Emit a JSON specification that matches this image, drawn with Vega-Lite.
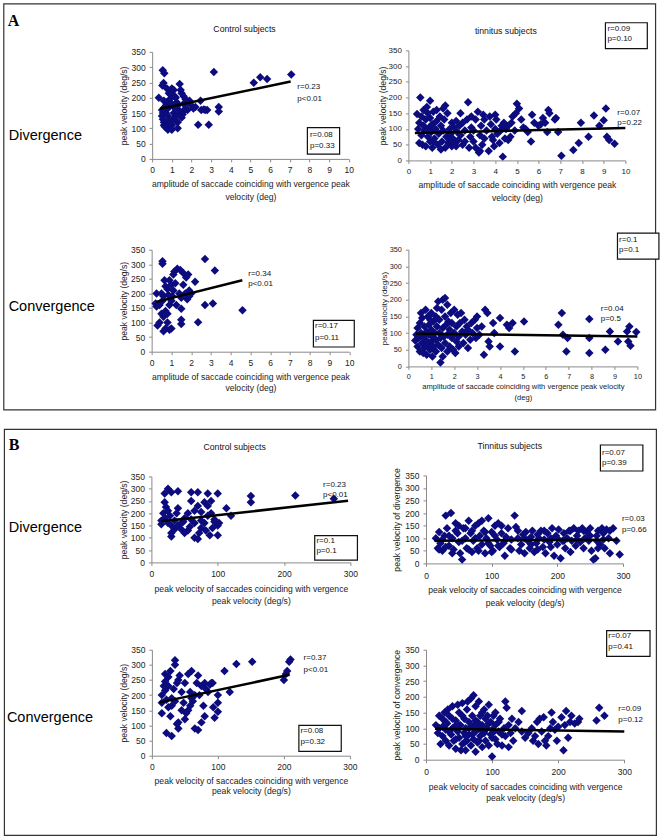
{
"$schema": "https://vega.github.io/schema/vega-lite/v6.json",
"padding": {"left": 2.4, "top": 2.4, "right": 4, "bottom": 4},
"background": "white",
"config": {
 "view": {"stroke": null},
 "font": "Liberation Sans",
 "axis": {"domainColor": "#8a8a8a", "tickColor": "#8a8a8a", "tickSize": 3, "tickCount": 30, "format": "d", "grid": false, "labelFont": "Liberation Sans", "labelFontSize": 8.5, "labelColor": "#222", "titleFont": "Liberation Sans", "titleFontSize": 8.6, "titleFontWeight": "normal", "titleColor": "#222", "labelPadding": 4, "labelFlush": false, "labelOverlap": false, "titlePadding": 3, "titleLineHeight": 12.5}
},
"datasets": {
 "a1": [{"x":0.34,"y":200},{"x":0.54,"y":290},{"x":0.62,"y":280},{"x":0.58,"y":248},{"x":0.52,"y":240},{"x":3.14,"y":284},{"x":5.17,"y":249},{"x":5.5,"y":267},{"x":5.85,"y":261},{"x":7.08,"y":276},{"x":2.46,"y":190},{"x":2.34,"y":112},{"x":2.88,"y":112},{"x":2.63,"y":162},{"x":2.8,"y":160},{"x":3.39,"y":170},{"x":3.39,"y":155},{"x":0.5,"y":160},{"x":0.5,"y":140},{"x":0.55,"y":130},{"x":0.6,"y":120},{"x":0.6,"y":110},{"x":0.65,"y":105},{"x":0.7,"y":150},{"x":0.7,"y":175},{"x":0.75,"y":185},{"x":0.8,"y":165},{"x":0.8,"y":140},{"x":0.85,"y":125},{"x":0.9,"y":115},{"x":0.95,"y":100},{"x":1.0,"y":95},{"x":1.0,"y":110},{"x":1.05,"y":130},{"x":1.1,"y":150},{"x":1.1,"y":170},{"x":0.9,"y":195},{"x":0.95,"y":210},{"x":1.0,"y":230},{"x":1.1,"y":225},{"x":1.2,"y":200},{"x":1.25,"y":185},{"x":1.3,"y":175},{"x":1.35,"y":160},{"x":1.4,"y":150},{"x":1.45,"y":140},{"x":1.5,"y":135},{"x":1.55,"y":145},{"x":1.6,"y":155},{"x":1.4,"y":245},{"x":1.45,"y":225},{"x":1.5,"y":215},{"x":1.6,"y":205},{"x":1.7,"y":195},{"x":1.8,"y":185},{"x":1.9,"y":190},{"x":2.0,"y":175},{"x":2.1,"y":165},{"x":2.2,"y":170},{"x":1.2,"y":125},{"x":1.3,"y":120},{"x":0.75,"y":230},{"x":0.85,"y":215},{"x":1.15,"y":205},{"x":1.6,"y":180},{"x":1.7,"y":165},{"x":1.8,"y":160},{"x":0.6,"y":190},{"x":0.65,"y":170},{"x":0.55,"y":150},{"x":1.0,"y":180},{"x":1.2,"y":140},{"x":1.3,"y":100},{"x":0.8,"y":95},{"x":2.5,"y":160},{"x":2.7,"y":160}],
 "a2": [{"x":0.4,"y":148},{"x":0.45,"y":100},{"x":0.5,"y":55},{"x":0.5,"y":120},{"x":0.55,"y":200},{"x":0.6,"y":140},{"x":0.6,"y":80},{"x":0.65,"y":50},{"x":0.7,"y":110},{"x":0.7,"y":160},{"x":0.75,"y":95},{"x":0.8,"y":45},{"x":0.8,"y":130},{"x":0.85,"y":170},{"x":0.9,"y":75},{"x":0.9,"y":150},{"x":0.95,"y":105},{"x":1.0,"y":190},{"x":1.0,"y":60},{"x":1.0,"y":135},{"x":1.05,"y":90},{"x":1.1,"y":40},{"x":1.1,"y":115},{"x":1.15,"y":155},{"x":1.2,"y":70},{"x":1.25,"y":100},{"x":1.3,"y":125},{"x":1.35,"y":50},{"x":1.4,"y":85},{"x":1.45,"y":140},{"x":1.5,"y":35},{"x":1.5,"y":110},{"x":1.55,"y":60},{"x":1.6,"y":95},{"x":1.65,"y":130},{"x":1.7,"y":175},{"x":1.7,"y":40},{"x":1.75,"y":75},{"x":1.8,"y":150},{"x":1.85,"y":55},{"x":1.9,"y":100},{"x":1.95,"y":85},{"x":2.0,"y":45},{"x":2.0,"y":120},{"x":1.3,"y":160},{"x":1.6,"y":165},{"x":1.15,"y":60},{"x":1.9,"y":65},{"x":2.05,"y":70},{"x":2.1,"y":105},{"x":2.15,"y":55},{"x":2.2,"y":125},{"x":2.25,"y":90},{"x":2.3,"y":65},{"x":2.35,"y":110},{"x":2.4,"y":80},{"x":2.5,"y":50},{"x":2.5,"y":120},{"x":2.6,"y":95},{"x":2.7,"y":130},{"x":2.75,"y":185},{"x":2.8,"y":40},{"x":2.85,"y":75},{"x":2.9,"y":105},{"x":3.0,"y":60},{"x":3.0,"y":95},{"x":3.1,"y":40},{"x":3.1,"y":130},{"x":3.2,"y":155},{"x":3.25,"y":25},{"x":3.3,"y":80},{"x":3.35,"y":110},{"x":3.4,"y":50},{"x":3.45,"y":145},{"x":3.5,"y":70},{"x":3.5,"y":130},{"x":2.2,"y":45},{"x":2.6,"y":60},{"x":2.9,"y":140},{"x":3.3,"y":30},{"x":2.4,"y":150},{"x":3.6,"y":95},{"x":3.7,"y":30},{"x":3.75,"y":140},{"x":3.8,"y":115},{"x":3.85,"y":75},{"x":3.9,"y":65},{"x":4.0,"y":145},{"x":4.0,"y":100},{"x":4.05,"y":130},{"x":4.1,"y":85},{"x":4.2,"y":55},{"x":4.3,"y":110},{"x":4.35,"y":12},{"x":4.4,"y":120},{"x":4.45,"y":70},{"x":4.5,"y":100},{"x":4.6,"y":65},{"x":4.7,"y":75},{"x":4.75,"y":120},{"x":4.8,"y":140},{"x":4.9,"y":95},{"x":4.95,"y":150},{"x":5.0,"y":180},{"x":5.1,"y":165},{"x":5.2,"y":130},{"x":5.3,"y":105},{"x":5.5,"y":90},{"x":5.65,"y":60},{"x":5.7,"y":145},{"x":5.8,"y":120},{"x":6.0,"y":110},{"x":6.1,"y":115},{"x":6.2,"y":135},{"x":6.3,"y":120},{"x":6.4,"y":90},{"x":6.45,"y":160},{"x":6.5,"y":150},{"x":6.75,"y":130},{"x":6.8,"y":135},{"x":6.9,"y":90},{"x":5.4,"y":100},{"x":4.25,"y":95},{"x":3.95,"y":45},{"x":4.6,"y":110},{"x":7.05,"y":15},{"x":7.6,"y":33},{"x":7.85,"y":55},{"x":7.95,"y":120},{"x":8.3,"y":75},{"x":8.55,"y":143},{"x":8.8,"y":110},{"x":9.0,"y":128},{"x":9.1,"y":165},{"x":9.15,"y":75},{"x":9.25,"y":65},{"x":9.5,"y":53}],
 "a3": [{"x":0.55,"y":302},{"x":0.55,"y":310},{"x":2.7,"y":318},{"x":3.2,"y":279},{"x":4.6,"y":142},{"x":2.35,"y":101},{"x":2.7,"y":160},{"x":3.1,"y":165},{"x":1.5,"y":147},{"x":1.5,"y":110},{"x":1.5,"y":95},{"x":0.25,"y":200},{"x":0.2,"y":165},{"x":0.25,"y":155},{"x":0.3,"y":90},{"x":0.4,"y":100},{"x":0.6,"y":70},{"x":0.7,"y":80},{"x":0.8,"y":100},{"x":0.9,"y":75},{"x":1.0,"y":80},{"x":0.7,"y":140},{"x":0.8,"y":130},{"x":0.9,"y":160},{"x":1.0,"y":175},{"x":1.1,"y":210},{"x":1.2,"y":235},{"x":1.1,"y":265},{"x":1.15,"y":275},{"x":1.3,"y":285},{"x":1.45,"y":280},{"x":1.6,"y":270},{"x":1.75,"y":255},{"x":1.85,"y":265},{"x":1.9,"y":210},{"x":2.0,"y":200},{"x":1.8,"y":180},{"x":2.2,"y":240},{"x":1.6,"y":230},{"x":1.7,"y":200},{"x":0.65,"y":245},{"x":0.7,"y":225},{"x":0.8,"y":215},{"x":0.5,"y":200},{"x":0.6,"y":190},{"x":0.55,"y":175},{"x":0.4,"y":160},{"x":0.5,"y":130},{"x":0.6,"y":120},{"x":1.0,"y":230},{"x":0.9,"y":245},{"x":1.05,"y":190},{"x":1.4,"y":200},{"x":1.5,"y":185},{"x":1.9,"y":190},{"x":0.85,"y":195},{"x":1.25,"y":160}],
 "a4": [{"x":0.3,"y":78},{"x":0.35,"y":95},{"x":0.4,"y":60},{"x":0.4,"y":115},{"x":0.45,"y":85},{"x":0.5,"y":130},{"x":0.5,"y":45},{"x":0.55,"y":100},{"x":0.6,"y":70},{"x":0.6,"y":145},{"x":0.65,"y":90},{"x":0.7,"y":55},{"x":0.7,"y":120},{"x":0.75,"y":170},{"x":0.75,"y":80},{"x":0.8,"y":105},{"x":0.8,"y":35},{"x":0.85,"y":150},{"x":0.85,"y":65},{"x":0.9,"y":95},{"x":0.9,"y":125},{"x":0.95,"y":50},{"x":1.0,"y":110},{"x":1.0,"y":75},{"x":1.0,"y":160},{"x":1.05,"y":30},{"x":1.05,"y":90},{"x":1.1,"y":135},{"x":1.1,"y":60},{"x":1.15,"y":100},{"x":1.2,"y":45},{"x":1.2,"y":150},{"x":1.2,"y":80},{"x":1.25,"y":120},{"x":1.3,"y":195},{"x":1.3,"y":65},{"x":1.35,"y":100},{"x":1.35,"y":140},{"x":1.4,"y":12},{"x":1.4,"y":85},{"x":1.45,"y":170},{"x":1.45,"y":55},{"x":1.5,"y":200},{"x":1.5,"y":115},{"x":1.5,"y":30},{"x":1.55,"y":90},{"x":1.6,"y":205},{"x":1.6,"y":150},{"x":1.6,"y":70},{"x":1.65,"y":125},{"x":1.7,"y":185},{"x":1.7,"y":95},{"x":1.7,"y":45},{"x":1.75,"y":135},{"x":1.8,"y":60},{"x":1.8,"y":110},{"x":1.85,"y":160},{"x":1.9,"y":85},{"x":1.9,"y":130},{"x":1.95,"y":50},{"x":2.0,"y":100},{"x":2.0,"y":170},{"x":2.05,"y":40},{"x":2.1,"y":120},{"x":2.1,"y":75},{"x":2.15,"y":155},{"x":2.2,"y":90},{"x":2.2,"y":60},{"x":2.25,"y":130},{"x":2.3,"y":160},{"x":2.35,"y":105},{"x":2.4,"y":70},{"x":2.45,"y":140},{"x":2.5,"y":95},{"x":2.55,"y":120},{"x":2.6,"y":110},{"x":2.6,"y":55},{"x":2.7,"y":80},{"x":2.75,"y":130},{"x":2.8,"y":100},{"x":2.9,"y":140},{"x":2.95,"y":85},{"x":3.0,"y":150},{"x":3.0,"y":115},{"x":3.1,"y":95},{"x":3.2,"y":120},{"x":3.3,"y":35},{"x":3.35,"y":170},{"x":3.45,"y":160},{"x":3.5,"y":75},{"x":3.55,"y":60},{"x":3.7,"y":130},{"x":3.75,"y":100},{"x":4.0,"y":145},{"x":4.0,"y":60},{"x":4.3,"y":125},{"x":4.4,"y":115},{"x":4.55,"y":130},{"x":4.65,"y":45},{"x":5.05,"y":135},{"x":6.55,"y":125},{"x":6.7,"y":160},{"x":6.75,"y":95},{"x":6.9,"y":45},{"x":6.95,"y":85},{"x":7.9,"y":40},{"x":7.9,"y":85},{"x":7.9,"y":142},{"x":8.6,"y":50},{"x":8.8,"y":105},{"x":9.15,"y":75},{"x":9.55,"y":105},{"x":9.65,"y":120},{"x":9.6,"y":75},{"x":9.7,"y":62},{"x":9.95,"y":103},{"x":0.55,"y":160},{"x":0.95,"y":140},{"x":1.25,"y":175},{"x":0.65,"y":40}],
 "b1": [{"x":150,"y":270},{"x":150,"y":245},{"x":217,"y":272},{"x":275,"y":259},{"x":113,"y":220},{"x":120,"y":190},{"x":20,"y":280},{"x":25,"y":300},{"x":30,"y":285},{"x":40,"y":290},{"x":60,"y":285},{"x":70,"y":285},{"x":85,"y":280},{"x":100,"y":280},{"x":20,"y":245},{"x":22,"y":225},{"x":25,"y":210},{"x":15,"y":170},{"x":15,"y":155},{"x":20,"y":180},{"x":18,"y":200},{"x":30,"y":105},{"x":30,"y":120},{"x":35,"y":135},{"x":40,"y":150},{"x":45,"y":160},{"x":40,"y":220},{"x":50,"y":180},{"x":55,"y":200},{"x":60,"y":175},{"x":65,"y":160},{"x":65,"y":100},{"x":70,"y":95},{"x":72,"y":120},{"x":75,"y":140},{"x":80,"y":160},{"x":85,"y":190},{"x":88,"y":110},{"x":90,"y":200},{"x":95,"y":175},{"x":100,"y":110},{"x":100,"y":150},{"x":60,"y":250},{"x":70,"y":230},{"x":80,"y":245},{"x":65,"y":210},{"x":75,"y":205},{"x":85,"y":230},{"x":90,"y":250},{"x":55,"y":130},{"x":50,"y":120},{"x":45,"y":135},{"x":35,"y":170},{"x":28,"y":190},{"x":38,"y":200},{"x":58,"y":145},{"x":48,"y":165},{"x":102,"y":160},{"x":95,"y":165},{"x":92,"y":140},{"x":25,"y":160},{"x":30,"y":150},{"x":75,"y":170},{"x":82,"y":130}],
 "b2": [{"x":15,"y":100},{"x":18,"y":60},{"x":20,"y":125},{"x":22,"y":80},{"x":25,"y":50},{"x":28,"y":110},{"x":30,"y":190},{"x":32,"y":140},{"x":35,"y":70},{"x":38,"y":200},{"x":40,"y":100},{"x":42,"y":55},{"x":45,"y":160},{"x":48,"y":120},{"x":50,"y":85},{"x":52,"y":40},{"x":55,"y":15},{"x":57,"y":140},{"x":60,"y":100},{"x":62,"y":60},{"x":65,"y":170},{"x":68,"y":120},{"x":70,"y":45},{"x":72,"y":90},{"x":75,"y":150},{"x":78,"y":60},{"x":80,"y":160},{"x":82,"y":110},{"x":85,"y":75},{"x":88,"y":130},{"x":90,"y":40},{"x":92,"y":100},{"x":95,"y":180},{"x":98,"y":70},{"x":100,"y":125},{"x":102,"y":50},{"x":105,"y":150},{"x":108,"y":95},{"x":110,"y":160},{"x":112,"y":65},{"x":115,"y":120},{"x":118,"y":80},{"x":120,"y":30},{"x":122,"y":105},{"x":125,"y":140},{"x":128,"y":60},{"x":130,"y":95},{"x":135,"y":190},{"x":137,"y":145},{"x":140,"y":100},{"x":142,"y":50},{"x":145,"y":75},{"x":148,"y":115},{"x":150,"y":40},{"x":152,"y":125},{"x":155,"y":90},{"x":158,"y":60},{"x":160,"y":105},{"x":162,"y":130},{"x":165,"y":45},{"x":168,"y":80},{"x":170,"y":115},{"x":172,"y":100},{"x":175,"y":130},{"x":178,"y":65},{"x":180,"y":95},{"x":182,"y":40},{"x":185,"y":120},{"x":188,"y":85},{"x":190,"y":100},{"x":192,"y":140},{"x":195,"y":30},{"x":198,"y":110},{"x":200,"y":75},{"x":202,"y":135},{"x":205,"y":20},{"x":208,"y":90},{"x":210,"y":120},{"x":212,"y":60},{"x":215,"y":100},{"x":218,"y":130},{"x":220,"y":45},{"x":222,"y":90},{"x":225,"y":140},{"x":228,"y":70},{"x":230,"y":110},{"x":232,"y":130},{"x":235,"y":85},{"x":238,"y":140},{"x":240,"y":60},{"x":242,"y":100},{"x":245,"y":125},{"x":248,"y":90},{"x":250,"y":140},{"x":252,"y":50},{"x":255,"y":15},{"x":258,"y":20},{"x":260,"y":110},{"x":262,"y":130},{"x":265,"y":75},{"x":268,"y":140},{"x":270,"y":95},{"x":272,"y":60},{"x":275,"y":135},{"x":278,"y":100},{"x":280,"y":40},{"x":285,"y":140},{"x":290,"y":90},{"x":295,"y":35},{"x":20,"y":55},{"x":25,"y":95},{"x":30,"y":65},{"x":35,"y":110},{"x":40,"y":40},{"x":45,"y":130},{"x":50,"y":150},{"x":55,"y":90},{"x":60,"y":140},{"x":65,"y":55},{"x":70,"y":130},{"x":75,"y":100},{"x":80,"y":50},{"x":85,"y":170},{"x":90,"y":125},{"x":95,"y":80},{"x":100,"y":45},{"x":105,"y":110},{"x":110,"y":70},{"x":115,"y":150},{"x":120,"y":90},{"x":130,"y":55},{"x":140,"y":130},{"x":150,"y":100},{"x":160,"y":75},{"x":170,"y":55},{"x":180,"y":130},{"x":190,"y":65},{"x":200,"y":100},{"x":210,"y":90},{"x":220,"y":130},{"x":230,"y":95},{"x":240,"y":130},{"x":250,"y":110},{"x":260,"y":90},{"x":270,"y":120},{"x":280,"y":130},{"x":262,"y":60}],
 "b3": [{"x":200,"y":250},{"x":203,"y":270},{"x":205,"y":280},{"x":208,"y":310},{"x":210,"y":318},{"x":152,"y":310},{"x":128,"y":303},{"x":110,"y":280},{"x":118,"y":210},{"x":100,"y":200},{"x":100,"y":175},{"x":100,"y":145},{"x":95,"y":125},{"x":93,"y":160},{"x":90,"y":240},{"x":85,"y":210},{"x":80,"y":130},{"x":78,"y":165},{"x":75,"y":110},{"x":70,"y":85},{"x":65,"y":90},{"x":60,"y":190},{"x":60,"y":280},{"x":55,"y":270},{"x":50,"y":240},{"x":45,"y":210},{"x":40,"y":90},{"x":40,"y":110},{"x":35,"y":315},{"x":35,"y":300},{"x":30,"y":65},{"x":22,"y":75},{"x":15,"y":140},{"x":15,"y":200},{"x":15,"y":175},{"x":20,"y":270},{"x":20,"y":215},{"x":25,"y":230},{"x":25,"y":260},{"x":28,"y":130},{"x":30,"y":165},{"x":35,"y":180},{"x":40,"y":250},{"x":45,"y":150},{"x":48,"y":175},{"x":50,"y":120},{"x":55,"y":150},{"x":58,"y":210},{"x":62,"y":180},{"x":65,"y":200},{"x":68,"y":240},{"x":70,"y":265},{"x":72,"y":200},{"x":75,"y":230},{"x":80,"y":240},{"x":82,"y":220},{"x":88,"y":235},{"x":92,"y":240},{"x":20,"y":245},{"x":18,"y":230},{"x":22,"y":185},{"x":28,"y":280},{"x":33,"y":220},{"x":38,"y":240},{"x":42,"y":265},{"x":25,"y":160},{"x":30,"y":190},{"x":52,"y":140},{"x":58,"y":165},{"x":38,"y":105}],
 "b4": [{"x":15,"y":110},{"x":18,"y":85},{"x":20,"y":100},{"x":22,"y":50},{"x":25,"y":130},{"x":25,"y":75},{"x":28,"y":150},{"x":30,"y":95},{"x":30,"y":60},{"x":32,"y":115},{"x":35,"y":45},{"x":35,"y":140},{"x":38,"y":80},{"x":40,"y":170},{"x":40,"y":100},{"x":42,"y":60},{"x":45,"y":125},{"x":45,"y":35},{"x":48,"y":90},{"x":50,"y":150},{"x":50,"y":70},{"x":52,"y":110},{"x":55,"y":50},{"x":55,"y":180},{"x":58,"y":130},{"x":58,"y":85},{"x":60,"y":30},{"x":60,"y":100},{"x":62,"y":160},{"x":62,"y":60},{"x":65,"y":120},{"x":65,"y":80},{"x":68,"y":195},{"x":68,"y":45},{"x":70,"y":105},{"x":70,"y":140},{"x":72,"y":205},{"x":72,"y":65},{"x":75,"y":25},{"x":75,"y":90},{"x":75,"y":170},{"x":78,"y":120},{"x":78,"y":55},{"x":80,"y":100},{"x":80,"y":185},{"x":82,"y":75},{"x":82,"y":140},{"x":85,"y":40},{"x":85,"y":110},{"x":88,"y":160},{"x":88,"y":85},{"x":90,"y":130},{"x":90,"y":60},{"x":92,"y":100},{"x":95,"y":175},{"x":95,"y":45},{"x":98,"y":120},{"x":98,"y":80},{"x":100,"y":10},{"x":100,"y":95},{"x":102,"y":140},{"x":105,"y":65},{"x":105,"y":110},{"x":108,"y":50},{"x":110,"y":90},{"x":112,"y":130},{"x":115,"y":45},{"x":118,"y":100},{"x":120,"y":75},{"x":120,"y":185},{"x":122,"y":165},{"x":125,"y":110},{"x":125,"y":40},{"x":128,"y":85},{"x":130,"y":130},{"x":132,"y":60},{"x":135,"y":100},{"x":140,"y":120},{"x":145,"y":155},{"x":145,"y":90},{"x":150,"y":70},{"x":155,"y":85},{"x":160,"y":100},{"x":162,"y":60},{"x":165,"y":75},{"x":168,"y":120},{"x":170,"y":50},{"x":172,"y":130},{"x":175,"y":90},{"x":178,"y":135},{"x":180,"y":60},{"x":182,"y":45},{"x":185,"y":75},{"x":188,"y":100},{"x":190,"y":150},{"x":192,"y":120},{"x":195,"y":95},{"x":198,"y":60},{"x":200,"y":105},{"x":205,"y":135},{"x":208,"y":30},{"x":210,"y":110},{"x":212,"y":155},{"x":215,"y":70},{"x":218,"y":120},{"x":220,"y":140},{"x":225,"y":115},{"x":230,"y":120},{"x":232,"y":130},{"x":258,"y":125},{"x":262,"y":165},{"x":270,"y":140},{"x":20,"y":140},{"x":25,"y":105},{"x":30,"y":120},{"x":35,"y":90},{"x":40,"y":130},{"x":45,"y":65},{"x":50,"y":110},{"x":55,"y":140},{"x":60,"y":75},{"x":65,"y":100},{"x":70,"y":80},{"x":75,"y":125},{"x":80,"y":60},{"x":85,"y":150},{"x":90,"y":95},{"x":95,"y":115},{"x":100,"y":70},{"x":105,"y":150},{"x":110,"y":120},{"x":115,"y":80},{"x":33,"y":160},{"x":48,"y":175},{"x":63,"y":185},{"x":53,"y":30},{"x":43,"y":105},{"x":58,"y":55},{"x":83,"y":95},{"x":93,"y":140},{"x":103,"y":90},{"x":73,"y":110}]
},
"spacing": 17,
"vconcat": [
 {
  "columns": 2, "bounds": "flush", "align": "each", "center": true,
  "spacing": {"row": 89.3, "column": 59},
  "concat": [
   {
    "width": 196.5, "height": 107,
    "layer": [
     {"data": {"name": "a1"}, "mark": {"type": "point", "shape": "diamond", "filled": true, "size": 72, "color": "#0c0c7e", "opacity": 1},
      "encoding": {
       "x": {"field": "x", "type": "quantitative", "scale": {"domain": [0, 10], "nice": false}, "axis": {"title": ["amplitude of saccade coinciding with vergence peak", "velocity (deg)"], "values": [0,1,2,3,4,5,6,7,8,9,10], "format": "d", "tickCount": 30, "labelOverlap": false, "labelFlush": false, "titlePadding": 5, "titleLineHeight": 13}},
       "y": {"field": "y", "type": "quantitative", "scale": {"domain": [0, 350], "nice": false}, "axis": {"title": "peak velocity (deg/s)", "values": [0,50,100,150,200,250,300,350], "format": "d", "tickCount": 30, "labelOverlap": false, "titlePadding": 2}}}},
     {"data": {"values": [{}]}, "mark": {"type": "rule", "strokeWidth": 2.5, "color": "#000"}, "encoding": {"x": {"datum": 0.4}, "y": {"datum": 164}, "x2": {"datum": 7.05}, "y2": {"datum": 253}}},
     {"data": {"values": [{}]}, "mark": {"type": "text", "font": "Liberation Sans", "fontSize": 8, "color": "#111", "align": "left", "baseline": "middle", "lineHeight": 12.5}, "encoding": {"x": {"datum": 7.39}, "y": {"datum": 235.5}, "text": {"value": ["r=0.23", "p<0.01"]}}},
     {"data": {"values": [{}]}, "mark": {"type": "rect", "fill": "white", "stroke": "#111", "strokeWidth": 1.2}, "encoding": {"x": {"datum": 7.9}, "x2": {"datum": 9.54}, "y": {"datum": 102.4}, "y2": {"datum": 15.4}}},
     {"data": {"values": [{}]}, "mark": {"type": "text", "font": "Liberation Sans", "fontSize": 8, "color": "#111", "align": "left", "baseline": "middle", "lineHeight": 11}, "encoding": {"x": {"datum": 8.03}, "y": {"datum": 77.5}, "text": {"value": ["r=0.08", "p=0.33"]}}},
     {"data": {"values": [{}]}, "mark": {"type": "text", "font": "Liberation Sans", "color": "#111", "align": "center", "baseline": "middle", "fontSize": 8.7}, "encoding": {"x": {"datum": 4.7}, "y": {"datum": 425}, "text": {"value": "Control subjects"}}},
     {"data": {"values": [{}]}, "mark": {"type": "text", "align": "left", "baseline": "alphabetic", "font": "Liberation Serif", "fontWeight": "bold", "fontSize": 16, "color": "#000"}, "encoding": {"x": {"datum": -7.35}, "y": {"datum": 435}, "text": {"value": "A"}}},
     {"data": {"values": [{}]}, "mark": {"type": "text", "font": "Liberation Sans", "align": "left", "baseline": "alphabetic", "fontSize": 14.5, "color": "#000"}, "encoding": {"x": {"datum": -7.3}, "y": {"datum": 60.5}, "text": {"value": "Divergence"}}},
     {"data": {"values": [{}]}, "mark": {"type": "rect", "filled": false, "stroke": "#333", "strokeWidth": 1.2}, "encoding": {"x": {"datum": -7.55}, "x2": {"datum": 25.62}, "y": {"datum": 507}, "y2": {"datum": -821}}}
    ]
   },
   {
    "width": 217, "height": 110,
    "layer": [
     {"data": {"name": "a2"}, "mark": {"type": "point", "shape": "diamond", "filled": true, "size": 72, "color": "#0c0c7e", "opacity": 1},
      "encoding": {
       "x": {"field": "x", "type": "quantitative", "scale": {"domain": [0, 10], "nice": false}, "axis": {"title": ["amplitude of saccade coinciding with vergence peak", "velocity (deg)"], "values": [0,1,2,3,4,5,6,7,8,9,10], "format": "d", "tickCount": 30, "labelOverlap": false, "labelFlush": false, "titlePadding": 5, "titleLineHeight": 12.7, "labelFontSize": 8}},
       "y": {"field": "y", "type": "quantitative", "scale": {"domain": [0, 350], "nice": false}, "axis": {"title": "peak velocity (deg/s)", "values": [0,50,100,150,200,250,300,350], "format": "d", "tickCount": 30, "labelOverlap": false, "titlePadding": 1, "labelFontSize": 8}}}},
     {"data": {"values": [{}]}, "mark": {"type": "rule", "strokeWidth": 2.5, "color": "#000"}, "encoding": {"x": {"datum": 0.3}, "y": {"datum": 87}, "x2": {"datum": 10}, "y2": {"datum": 103}}},
     {"data": {"values": [{}]}, "mark": {"type": "text", "font": "Liberation Sans", "fontSize": 8, "color": "#111", "align": "left", "baseline": "middle", "lineHeight": 10.5}, "encoding": {"x": {"datum": 9.63}, "y": {"datum": 150.8}, "text": {"value": ["r=0.07", "p=0.22"]}}},
     {"data": {"values": [{}]}, "mark": {"type": "rect", "fill": "white", "stroke": "#111", "strokeWidth": 1.2}, "encoding": {"x": {"datum": 9.08}, "x2": {"datum": 11.01}, "y": {"datum": 438}, "y2": {"datum": 355.4}}},
     {"data": {"values": [{}]}, "mark": {"type": "text", "font": "Liberation Sans", "fontSize": 8, "color": "#111", "align": "left", "baseline": "middle", "lineHeight": 10}, "encoding": {"x": {"datum": 9.17}, "y": {"datum": 418}, "text": {"value": ["r=0.09", "p=0.10"]}}},
     {"data": {"values": [{}]}, "mark": {"type": "text", "font": "Liberation Sans", "color": "#111", "align": "center", "baseline": "middle", "fontSize": 8.7}, "encoding": {"x": {"datum": 4.49}, "y": {"datum": 411}, "text": {"value": "tinnitus subjects"}}}
    ]
   },
   {
    "width": 197.5, "height": 102,
    "layer": [
     {"data": {"name": "a3"}, "mark": {"type": "point", "shape": "diamond", "filled": true, "size": 72, "color": "#0c0c7e", "opacity": 1},
      "encoding": {
       "x": {"field": "x", "type": "quantitative", "scale": {"domain": [0, 10], "nice": false}, "axis": {"title": ["amplitude of saccade coinciding with vergence peak", "velocity (deg)"], "values": [0,1,2,3,4,5,6,7,8,9,10], "format": "d", "tickCount": 30, "labelOverlap": false, "labelFlush": false, "titlePadding": 5, "titleLineHeight": 11.7}},
       "y": {"field": "y", "type": "quantitative", "scale": {"domain": [0, 350], "nice": false}, "axis": {"title": "peak velocity (deg/s)", "values": [0,50,100,150,200,250,300,350], "format": "d", "tickCount": 30, "labelOverlap": false, "titlePadding": 2}}}},
     {"data": {"values": [{}]}, "mark": {"type": "rule", "strokeWidth": 2.5, "color": "#000"}, "encoding": {"x": {"datum": 0.22}, "y": {"datum": 171}, "x2": {"datum": 4.59}, "y2": {"datum": 245}}},
     {"data": {"values": [{}]}, "mark": {"type": "text", "font": "Liberation Sans", "fontSize": 8, "color": "#111", "align": "left", "baseline": "middle", "lineHeight": 10.7}, "encoding": {"x": {"datum": 4.89}, "y": {"datum": 267.6}, "text": {"value": ["r=0.34", "p<0.01"]}}},
     {"data": {"values": [{}]}, "mark": {"type": "rect", "fill": "white", "stroke": "#111", "strokeWidth": 1.2}, "encoding": {"x": {"datum": 8.19}, "x2": {"datum": 10.26}, "y": {"datum": 107.4}, "y2": {"datum": 16.1}}},
     {"data": {"values": [{}]}, "mark": {"type": "text", "font": "Liberation Sans", "fontSize": 8, "color": "#111", "align": "left", "baseline": "middle", "lineHeight": 12}, "encoding": {"x": {"datum": 8.27}, "y": {"datum": 86.8}, "text": {"value": ["r=0.17", "p=0.11"]}}},
     {"data": {"values": [{}]}, "mark": {"type": "text", "font": "Liberation Sans", "align": "left", "baseline": "alphabetic", "fontSize": 14.5, "color": "#000"}, "encoding": {"x": {"datum": -7.24}, "y": {"datum": 139.6}, "text": {"value": "Convergence"}}}
    ]
   },
   {
    "width": 229, "height": 116.7,
    "layer": [
     {"data": {"name": "a4"}, "mark": {"type": "point", "shape": "diamond", "filled": true, "size": 72, "color": "#0c0c7e", "opacity": 1},
      "encoding": {
       "x": {"field": "x", "type": "quantitative", "scale": {"domain": [0, 10], "nice": false}, "axis": {"title": ["amplitude of saccade coinciding with vergence peak velocity", "(deg)"], "values": [0,1,2,3,4,5,6,7,8,9,10], "format": "d", "tickCount": 30, "labelOverlap": false, "labelFlush": false, "titlePadding": 3, "titleLineHeight": 11, "titleFontSize": 7.6, "labelFontSize": 7.3, "labelPadding": 3}},
       "y": {"field": "y", "type": "quantitative", "scale": {"domain": [0, 350], "nice": false}, "axis": {"title": "peak velocity (deg/s)", "values": [0,50,100,150,200,250,300,350], "format": "d", "tickCount": 30, "labelOverlap": false, "titlePadding": 1, "titleFontSize": 8, "labelFontSize": 7.3}}}},
     {"data": {"values": [{}]}, "mark": {"type": "rule", "strokeWidth": 2.5, "color": "#000"}, "encoding": {"x": {"datum": 0.33}, "y": {"datum": 98}, "x2": {"datum": 10}, "y2": {"datum": 90}}},
     {"data": {"values": [{}]}, "mark": {"type": "text", "font": "Liberation Sans", "fontSize": 8, "color": "#111", "align": "left", "baseline": "middle", "lineHeight": 10}, "encoding": {"x": {"datum": 8.4}, "y": {"datum": 172}, "text": {"value": ["r=0.04", "p=0.5"]}}},
     {"data": {"values": [{}]}, "mark": {"type": "rect", "fill": "white", "stroke": "#111", "strokeWidth": 1.2}, "encoding": {"x": {"datum": 9.13}, "x2": {"datum": 10.94}, "y": {"datum": 400}, "y2": {"datum": 322}}},
     {"data": {"values": [{}]}, "mark": {"type": "text", "font": "Liberation Sans", "fontSize": 8, "color": "#111", "align": "left", "baseline": "middle", "lineHeight": 10.5}, "encoding": {"x": {"datum": 9.2}, "y": {"datum": 380}, "text": {"value": ["r=0.1", "p=0.1"]}}}
    ]
   }
  ]
 },
 {
  "columns": 2, "bounds": "flush", "align": "each", "center": true,
  "spacing": {"row": 86.3, "column": 75.6},
  "concat": [
   {
    "width": 199, "height": 86,
    "layer": [
     {"data": {"name": "b1"}, "mark": {"type": "point", "shape": "diamond", "filled": true, "size": 72, "color": "#0c0c7e", "opacity": 1},
      "encoding": {
       "x": {"field": "x", "type": "quantitative", "scale": {"domain": [0, 300], "nice": false}, "axis": {"title": ["peak velocity of saccades coinciding with vergence", "peak velocity (deg/s)"], "values": [0,100,200,300], "format": "d", "tickCount": 30, "labelOverlap": false, "labelFlush": false, "titlePadding": 7, "titleLineHeight": 11.7}},
       "y": {"field": "y", "type": "quantitative", "scale": {"domain": [0, 350], "nice": false}, "axis": {"title": "peak velocity (deg/s)", "values": [0,50,100,150,200,250,300,350], "format": "d", "tickCount": 30, "labelOverlap": false, "titlePadding": 2}}}},
     {"data": {"values": [{}]}, "mark": {"type": "rule", "strokeWidth": 2.5, "color": "#000"}, "encoding": {"x": {"datum": 15}, "y": {"datum": 167}, "x2": {"datum": 296.5}, "y2": {"datum": 251}}},
     {"data": {"values": [{}]}, "mark": {"type": "text", "font": "Liberation Sans", "fontSize": 8, "color": "#111", "align": "left", "baseline": "middle", "lineHeight": 10}, "encoding": {"x": {"datum": 258.8}, "y": {"datum": 316.2}, "text": {"value": ["r=0.23", "p<0.01"]}}},
     {"data": {"values": [{}]}, "mark": {"type": "rect", "fill": "white", "stroke": "#111", "strokeWidth": 1.2}, "encoding": {"x": {"datum": 246.2}, "x2": {"datum": 310.6}, "y": {"datum": 108.7}, "y2": {"datum": 9.4}}},
     {"data": {"values": [{}]}, "mark": {"type": "text", "font": "Liberation Sans", "fontSize": 8, "color": "#111", "align": "left", "baseline": "middle", "lineHeight": 10}, "encoding": {"x": {"datum": 248.8}, "y": {"datum": 88.3}, "text": {"value": ["r=0.1", "p=0.1"]}}},
     {"data": {"values": [{}]}, "mark": {"type": "text", "font": "Liberation Sans", "color": "#111", "align": "center", "baseline": "middle", "fontSize": 8.7}, "encoding": {"x": {"datum": 125.4}, "y": {"datum": 468}, "text": {"value": "Control subjects"}}},
     {"data": {"values": [{}]}, "mark": {"type": "text", "align": "left", "baseline": "alphabetic", "font": "Liberation Serif", "fontWeight": "bold", "fontSize": 16, "color": "#000"}, "encoding": {"x": {"datum": -215}, "y": {"datum": 457}, "text": {"value": "B"}}},
     {"data": {"values": [{}]}, "mark": {"type": "text", "font": "Liberation Sans", "align": "left", "baseline": "alphabetic", "fontSize": 14.5, "color": "#000"}, "encoding": {"x": {"datum": -215}, "y": {"datum": 122}, "text": {"value": "Divergence"}}},
     {"data": {"values": [{}]}, "mark": {"type": "rect", "filled": false, "stroke": "#333", "strokeWidth": 1.2}, "encoding": {"x": {"datum": -221.6}, "x2": {"datum": 761.3}, "y": {"datum": 541.3}, "y2": {"datum": -1111}}}
    ]
   },
   {
    "width": 197, "height": 88,
    "layer": [
     {"data": {"name": "b2"}, "mark": {"type": "point", "shape": "diamond", "filled": true, "size": 72, "color": "#0c0c7e", "opacity": 1},
      "encoding": {
       "x": {"field": "x", "type": "quantitative", "scale": {"domain": [0, 300], "nice": false}, "axis": {"title": ["peak velocity of saccades coinciding with vergence", "peak velocity (deg/s)"], "values": [0,100,200,300], "format": "d", "tickCount": 30, "labelOverlap": false, "labelFlush": false, "titlePadding": 6, "titleLineHeight": 12.7, "labelPadding": 5}},
       "y": {"field": "y", "type": "quantitative", "scale": {"domain": [0, 350], "nice": false}, "axis": {"title": "peak velocity of divergence", "values": [0,50,100,150,200,250,300,350], "format": "d", "tickCount": 30, "labelOverlap": false, "titlePadding": 3}}}},
     {"data": {"values": [{}]}, "mark": {"type": "rule", "strokeWidth": 2.5, "color": "#000"}, "encoding": {"x": {"datum": 13}, "y": {"datum": 90}, "x2": {"datum": 293}, "y2": {"datum": 94}}},
     {"data": {"values": [{}]}, "mark": {"type": "text", "font": "Liberation Sans", "fontSize": 8, "color": "#111", "align": "left", "baseline": "middle", "lineHeight": 10.7}, "encoding": {"x": {"datum": 298.4}, "y": {"datum": 175}, "text": {"value": ["r=0.03", "p=0.66"]}}},
     {"data": {"values": [{}]}, "mark": {"type": "rect", "fill": "white", "stroke": "#111", "strokeWidth": 1.2}, "encoding": {"x": {"datum": 265.6}, "x2": {"datum": 330.3}, "y": {"datum": 470.8}, "y2": {"datum": 367.4}}},
     {"data": {"values": [{}]}, "mark": {"type": "text", "font": "Liberation Sans", "fontSize": 8, "color": "#111", "align": "left", "baseline": "middle", "lineHeight": 10.7}, "encoding": {"x": {"datum": 268}, "y": {"datum": 440.3}, "text": {"value": ["r=0.07", "p=0.39"]}}},
     {"data": {"values": [{}]}, "mark": {"type": "text", "font": "Liberation Sans", "color": "#111", "align": "center", "baseline": "middle", "fontSize": 8.7}, "encoding": {"x": {"datum": 127.6}, "y": {"datum": 465}, "text": {"value": "Tinnitus subjects"}}}
    ]
   },
   {
    "width": 198, "height": 106,
    "layer": [
     {"data": {"name": "b3"}, "mark": {"type": "point", "shape": "diamond", "filled": true, "size": 72, "color": "#0c0c7e", "opacity": 1},
      "encoding": {
       "x": {"field": "x", "type": "quantitative", "scale": {"domain": [0, 300], "nice": false}, "axis": {"title": ["peak velocity of saccades coinciding with vergence", "peak velocity (deg/s)"], "values": [0,100,200,300], "format": "d", "tickCount": 30, "labelOverlap": false, "labelFlush": false, "titlePadding": 5, "titleLineHeight": 10.7}},
       "y": {"field": "y", "type": "quantitative", "scale": {"domain": [0, 350], "nice": false}, "axis": {"title": "peak velocity (deg/s)", "values": [0,50,100,150,200,250,300,350], "format": "d", "tickCount": 30, "labelOverlap": false, "titlePadding": 2}}}},
     {"data": {"values": [{}]}, "mark": {"type": "rule", "strokeWidth": 2.5, "color": "#000"}, "encoding": {"x": {"datum": 11.6}, "y": {"datum": 176}, "x2": {"datum": 208.6}, "y2": {"datum": 267}}},
     {"data": {"values": [{}]}, "mark": {"type": "text", "font": "Liberation Sans", "fontSize": 8, "color": "#111", "align": "left", "baseline": "middle", "lineHeight": 11.5}, "encoding": {"x": {"datum": 229.8}, "y": {"datum": 322.3}, "text": {"value": ["r=0.37", "p<0.01"]}}},
     {"data": {"values": [{}]}, "mark": {"type": "rect", "fill": "white", "stroke": "#111", "strokeWidth": 1.2}, "encoding": {"x": {"datum": 222.7}, "x2": {"datum": 286.9}, "y": {"datum": 100}, "y2": {"datum": 14.3}}},
     {"data": {"values": [{}]}, "mark": {"type": "text", "font": "Liberation Sans", "fontSize": 8, "color": "#111", "align": "left", "baseline": "middle", "lineHeight": 10.7}, "encoding": {"x": {"datum": 225}, "y": {"datum": 80.3}, "text": {"value": ["r=0.08", "p=0.32"]}}},
     {"data": {"values": [{}]}, "mark": {"type": "text", "font": "Liberation Sans", "align": "left", "baseline": "alphabetic", "fontSize": 14.5, "color": "#000"}, "encoding": {"x": {"datum": -219.7}, "y": {"datum": 111}, "text": {"value": "Convergence"}}}
    ]
   },
   {
    "width": 198.3, "height": 110,
    "layer": [
     {"data": {"name": "b4"}, "mark": {"type": "point", "shape": "diamond", "filled": true, "size": 72, "color": "#0c0c7e", "opacity": 1},
      "encoding": {
       "x": {"field": "x", "type": "quantitative", "scale": {"domain": [0, 300], "nice": false}, "axis": {"title": ["peak velocity of saccades coinciding with vergence", "peak velocity (deg/s)"], "values": [0,100,200,300], "format": "d", "tickCount": 30, "labelOverlap": false, "labelFlush": false, "titlePadding": 6, "titleLineHeight": 11.7, "labelPadding": 5}},
       "y": {"field": "y", "type": "quantitative", "scale": {"domain": [0, 350], "nice": false}, "axis": {"title": "peak velocity of convergence", "values": [0,50,100,150,200,250,300,350], "format": "d", "tickCount": 30, "labelOverlap": false, "titlePadding": 3}}}},
     {"data": {"values": [{}]}, "mark": {"type": "rule", "strokeWidth": 2.5, "color": "#000"}, "encoding": {"x": {"datum": 13.6}, "y": {"datum": 98.6}, "x2": {"datum": 300}, "y2": {"datum": 90}}},
     {"data": {"values": [{}]}, "mark": {"type": "text", "font": "Liberation Sans", "fontSize": 8, "color": "#111", "align": "left", "baseline": "middle", "lineHeight": 11.5}, "encoding": {"x": {"datum": 291}, "y": {"datum": 162.2}, "text": {"value": ["r=0.09", "p=0.12"]}}},
     {"data": {"values": [{}]}, "mark": {"type": "rect", "fill": "white", "stroke": "#111", "strokeWidth": 1.2}, "encoding": {"x": {"datum": 273.3}, "x2": {"datum": 338.9}, "y": {"datum": 410.4}, "y2": {"datum": 328.7}}},
     {"data": {"values": [{}]}, "mark": {"type": "text", "font": "Liberation Sans", "fontSize": 8, "color": "#111", "align": "left", "baseline": "middle", "lineHeight": 11}, "encoding": {"x": {"datum": 275.8}, "y": {"datum": 392.4}, "text": {"value": ["r=0.07", "p=0.41"]}}}
    ]
   }
  ]
 }
]
}
